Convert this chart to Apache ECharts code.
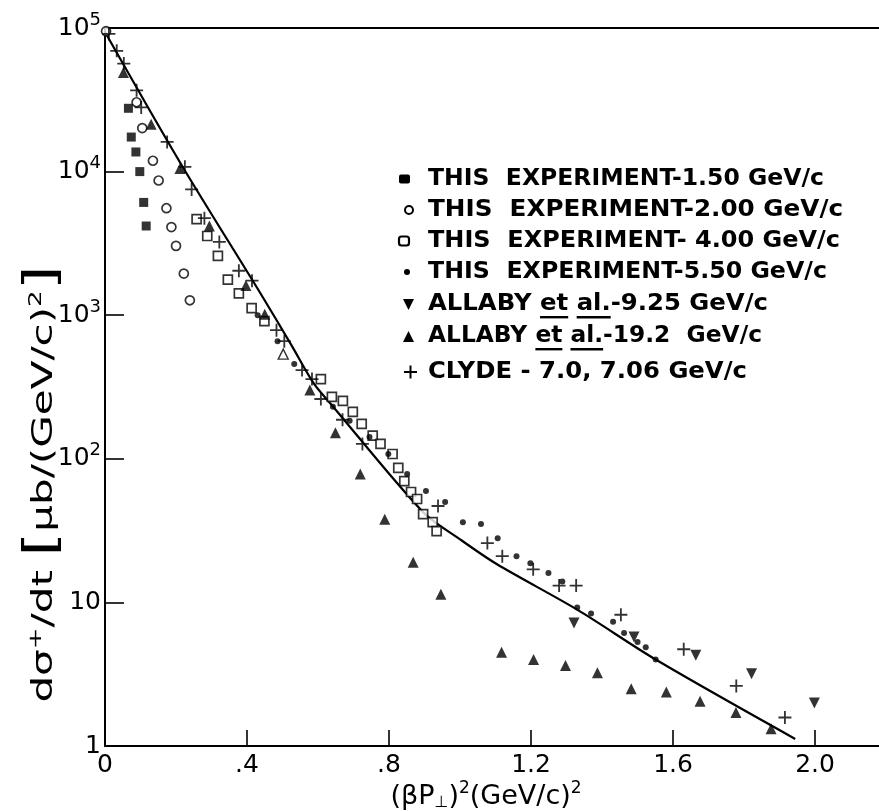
<!DOCTYPE html>
<html><head><meta charset="utf-8">
<script src="https://cdn.jsdelivr.net/npm/echarts@6/dist/echarts.min.js"></script>
<style>html,body{margin:0;padding:0;background:#fff}#c{width:879px;height:811px}</style>
</head><body><div id="c"></div>
<script>
// ---- tick labels ----
const xTicks = [0, 0.4, 0.8, 1.2, 1.6, 2.0];
const xTickLabels = ['0', '.4', '.8', '1.2', '1.6', '2.0'];
const yTicks = [1, 10, 100, 1000, 10000, 100000];
const yTickLabels = ['{b|1}', '{b|10}', '{b|10}{s|2}', '{b|10}{s|3}', '{b|10}{s|4}', '{b|10}{s|5}'];

// ---- series values [x, y] ----
const exp150 = [[0.066,27600],[0.074,17400],[0.087,13700],[0.098,10000],[0.109,6100],[0.116,4180]];
const exp200 = [[0.003,95000],[0.089,30400],[0.105,20100],[0.135,11900],[0.151,8670],[0.173,5560],[0.187,4110],[0.200,3040],[0.222,1950],[0.239,1270]];
const exp400 = [[0.258,4670],[0.288,3560],[0.318,2590],[0.346,1770],[0.377,1420],[0.413,1120],[0.449,908],[0.608,359],[0.639,270],[0.670,253],[0.698,212],[0.723,175],[0.754,145],[0.776,127],[0.810,108],[0.826,86.5],[0.843,70],[0.862,58.7],[0.879,52.5],[0.896,41.2],[0.923,36.2],[0.934,31.4]];
const exp550 = [[0.430,1000],[0.486,659],[0.533,457],[0.642,230],[0.689,184],[0.745,142],[0.798,108],[0.851,78.5],[0.904,59.7],[0.958,50],[1.008,36.2],[1.059,35.1],[1.106,28],[1.159,21],[1.198,18.7],[1.249,16],[1.288,14],[1.330,9.2],[1.369,8.36],[1.431,7.33],[1.462,6.13],[1.500,5.29],[1.523,4.88],[1.551,4.0]];
const allaby925 = [[1.321,7.2],[1.490,5.74],[1.664,4.28],[1.821,3.19],[1.998,1.99]];
const allaby192 = [[0.052,49000],[0.130,21400],[0.211,10500],[0.294,4180],[0.397,1610],[0.450,1015],[0.577,301],[0.649,152],[0.719,78.5],[0.788,38],[0.868,19],[0.946,11.4],[1.117,4.5],[1.207,4.0],[1.297,3.63],[1.387,3.24],[1.482,2.5],[1.581,2.38],[1.676,2.05],[1.777,1.71],[1.876,1.32]];
const openTriangle = [[0.502,536]];
const clyde = [[0.011,91000],[0.033,69300],[0.053,56500],[0.089,36800],[0.102,28000],[0.175,16100],[0.225,10800],[0.244,7520],[0.280,4740],[0.322,3240],[0.377,2040],[0.414,1740],[0.483,787],[0.505,659],[0.555,415],[0.583,359],[0.608,261],[0.669,187],[0.725,127],[0.938,46.9],[1.077,25.9],[1.119,21],[1.206,17],[1.279,13.1],[1.327,13.1],[1.453,8.2],[1.630,4.72],[1.778,2.62],[1.915,1.58]];
const fitX = [0, 0.2135, 0.433, 0.525, 0.589, 0.636, 0.8955, 0.999, 1.103, 1.33, 1.551, 1.944];
const fitY = [93800, 11350, 1486, 619, 332, 241, 42.6, 27.6, 18.5, 8.9, 4.0, 1.12];

// ---- legend texts ----
const legendLabels = [
  'THIS  EXPERIMENT-1.50 GeV/c',
  'THIS  EXPERIMENT-2.00 GeV/c',
  'THIS  EXPERIMENT- 4.00 GeV/c',
  'THIS  EXPERIMENT-5.50 GeV/c',
  'ALLABY et al.-9.25 GeV/c',
  'ALLABY et al.-19.2  GeV/c',
  'CLYDE - 7.0, 7.06 GeV/c'
];
const yTitle = '{a|dσ}{s|+}{a|/dt }{b|[}{a|μb/(GeV/c)}{s|2}{b|]}';
const xTitle = '{a|(βP}{u|⊥}{a|)}{s|2}{a|(GeV/c)}{s|2}';

const FONT = '"DejaVu Sans", sans-serif';
const chart = echarts.init(document.getElementById('c'), null, {renderer: 'canvas'});

// measuring for legend stretch
const cv = document.createElement('canvas').getContext('2d');
const LFS = 23;
cv.font = 'bold ' + LFS + 'px "DejaVu Sans"';
const meas = t => cv.measureText(t).width;

const rowY = [179, 210, 241, 272, 304, 336, 372];
const rowW = [396, 415, 412, 399, 340, 334, 319];
const textX = 428;
const gfx = [];
legendLabels.forEach((t, i) => {
  const s = rowW[i] / meas(t);
  gfx.push({type: 'text', x: textX, y: rowY[i], scaleX: s,
    style: {text: t, fontSize: LFS, fontWeight: 'bold', fontFamily: FONT, fill: '#000', verticalAlign: 'middle', align: 'left'}});
  if (t.indexOf(' et al.') > 0) {
    const x1 = textX + meas('ALLABY ') * s, w1 = meas('et') * s;
    const x2 = textX + meas('ALLABY et ') * s, w2 = meas('al.') * s;
    gfx.push({type: 'rect', shape: {x: x1, y: rowY[i] + 12, width: w1, height: 2.4}, style: {fill: '#000'}});
    gfx.push({type: 'rect', shape: {x: x2, y: rowY[i] + 12, width: w2, height: 2.4}, style: {fill: '#000'}});
  }
});
// legend symbols
const sy = rowY;
gfx.push({type: 'rect', shape: {x: 399, y: sy[0] - 4.5, width: 11, height: 9, r: 2}, style: {fill: '#000'}});
gfx.push({type: 'circle', shape: {cx: 409, cy: sy[1], r: 4}, style: {fill: '#fff', stroke: '#000', lineWidth: 2}});
gfx.push({type: 'rect', shape: {x: 399, y: sy[2] - 4.5, width: 10, height: 9, r: 2.5}, style: {fill: '#fff', stroke: '#000', lineWidth: 2.2}});
gfx.push({type: 'circle', shape: {cx: 407, cy: sy[3], r: 3}, style: {fill: '#000'}});
gfx.push({type: 'polygon', shape: {points: [[403, sy[4] - 5], [414, sy[4] - 5], [408.5, sy[4] + 6]]}, style: {fill: '#000'}});
gfx.push({type: 'polygon', shape: {points: [[403, sy[5] + 6], [414, sy[5] + 6], [408.5, sy[5] - 5]]}, style: {fill: '#000'}});
gfx.push({type: 'rect', shape: {x: 404, y: sy[6] - 1, width: 13, height: 2}, style: {fill: '#000'}});
gfx.push({type: 'rect', shape: {x: 409.5, y: sy[6] - 6.5, width: 2, height: 13}, style: {fill: '#000'}});
// axis titles
gfx.push({type: 'text', x: 44, y: 484, rotation: Math.PI / 2, scaleX: 1.45,
  style: {text: yTitle, align: 'center', verticalAlign: 'middle', fill: '#000',
    rich: {a: {fontSize: 29, fontFamily: FONT, fill: '#000'},
           s: {fontSize: 18, fontFamily: FONT, fill: '#000', padding: [0, 0, 16, 0]},
           b: {fontSize: 44, fontFamily: FONT, fill: '#000'}}}});
gfx.push({type: 'text', x: 486, y: 797,
  style: {text: xTitle, align: 'center', verticalAlign: 'middle', fill: '#000',
    rich: {a: {fontSize: 27, fontFamily: FONT, fill: '#000'},
           s: {fontSize: 17, fontFamily: FONT, fill: '#000', padding: [0, 0, 16, 0]},
           u: {fontSize: 16, fontFamily: FONT, fill: '#000', padding: [12, 0, 0, 0]}}}});

const plusPath = 'path://M4.3,0h1.4v4.3h4.3v1.4h-4.3v4.3h-1.4v-4.3h-4.3v-1.4h4.3z';
const black = '#000';
const fitData = fitX.map((x, i) => [x, fitY[i]]);

const option = {
  backgroundColor: '#fff',
  animation: false,
  grid: {left: 105, right: 0, top: 28, bottom: 65, containLabel: false},
  xAxis: [{
    type: 'value', min: 0, max: 2.18, position: 'bottom',
    axisLine: {show: true, onZero: false, lineStyle: {color: black, width: 2}},
    axisTick: {show: true, inside: true, length: 16, lineStyle: {color: black, width: 1.6}, customValues: xTicks},
    axisLabel: {show: true, margin: 7, color: black, fontSize: 25, fontFamily: FONT, customValues: xTicks,
      formatter: v => { const i = xTicks.findIndex(t => Math.abs(t - v) < 1e-6); return i >= 0 ? xTickLabels[i] : ''; }},
    splitLine: {show: false}
  }, {
    type: 'value', min: 0, max: 2.18, position: 'top',
    axisLine: {show: true, onZero: false, lineStyle: {color: black, width: 2}},
    axisTick: {show: false}, axisLabel: {show: false}, splitLine: {show: false}
  }],
  yAxis: {
    type: 'log', logBase: 10, min: 1, max: 100000,
    axisLine: {show: true, onZero: false, lineStyle: {color: black, width: 2}},
    axisTick: {show: true, inside: true, length: 19, lineStyle: {color: black, width: 1.6}},
    axisLabel: {show: true, margin: 4, color: black,
      formatter: v => { const i = yTicks.findIndex(t => Math.abs(Math.log10(t) - Math.log10(v)) < 1e-6); return i >= 0 ? yTickLabels[i] : ''; },
      rich: {b: {fontSize: 25, fontFamily: FONT, color: black},
             s: {fontSize: 18, fontFamily: FONT, color: black, padding: [0, 0, 16, 0]}}},
    splitLine: {show: false}
  },
  graphic: gfx,
  series: [
    {type: 'line', data: fitData, smooth: 0.3, showSymbol: false, lineStyle: {color: black, width: 2.2}, z: 1, silent: true},
    {type: 'scatter', name: '1.50', data: exp150, symbol: 'rect', symbolSize: 9, itemStyle: {color: black}, z: 3},
    {type: 'scatter', name: '2.00', data: exp200, symbol: 'circle', symbolSize: 9, itemStyle: {color: '#fff', borderColor: black, borderWidth: 1.7}, z: 3},
    {type: 'scatter', name: '4.00', data: exp400, symbol: 'rect', symbolSize: 9, itemStyle: {color: '#fff', borderColor: black, borderWidth: 1.7}, z: 3},
    {type: 'scatter', name: '5.50', data: exp550, symbol: 'circle', symbolSize: 6, itemStyle: {color: black}, z: 3},
    {type: 'scatter', name: '9.25', data: allaby925, symbol: 'triangle', symbolRotate: 180, symbolSize: 11, itemStyle: {color: black}, z: 3},
    {type: 'scatter', name: '19.2', data: allaby192, symbol: 'triangle', symbolSize: 11, itemStyle: {color: black}, z: 3},
    {type: 'scatter', name: 'open', data: openTriangle, symbol: 'triangle', symbolSize: 10, itemStyle: {color: '#fff', borderColor: black, borderWidth: 1.4}, z: 3},
    {type: 'scatter', name: 'CLYDE', data: clyde, symbol: plusPath, symbolSize: 13, itemStyle: {color: black}, z: 4}
  ]
};
chart.setOption(option);
</script>
</body></html>
